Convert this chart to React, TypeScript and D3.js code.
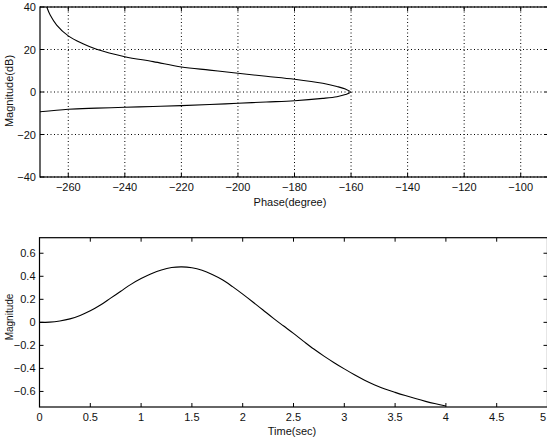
import React from 'react';
import * as d3 from 'd3';

// nichols plot (top)
const phaseTicks = [-260, -240, -220, -200, -180, -160, -140, -120, -100];
const dbTicks = [-40, -20, 0, 20, 40];
const upperPhase = [-268.6, -267.6, -266.4, -264.1, -260, -255, -250, -240, -230, -220, -210, -200, -190, -180, -170, -165, -162, -160.2];
const upperDb = [44, 40, 36.2, 31.5, 26.4, 22.8, 20.1, 16.6, 14.3, 11.8, 10.3, 8.8, 7.4, 6.0, 4.1, 2.6, 1.4, 0];
const lowerPhase = [-162, -165, -170, -180, -190, -200, -210, -220, -230, -240, -250, -260, -270];
const lowerDb = [-1.2, -2.2, -3.0, -4.1, -4.7, -5.3, -5.9, -6.4, -6.8, -7.2, -7.6, -8.1, -9.3];

// time response (bottom)
const timeTicks = [0, 0.5, 1, 1.5, 2, 2.5, 3, 3.5, 4, 4.5, 5];
const respTicks = [-0.6, -0.4, -0.2, 0, 0.2, 0.4, 0.6];
const time = [0, 0.1, 0.2, 0.3, 0.4, 0.5, 0.6, 0.7, 0.8, 0.9, 1.0, 1.1, 1.2, 1.3, 1.4, 1.5, 1.6, 1.7, 1.8, 1.9, 2.0,
  2.1, 2.2, 2.3, 2.4, 2.5, 2.6, 2.7, 2.8, 2.9, 3.0, 3.1, 3.2, 3.3, 3.4, 3.5, 3.6, 3.7, 3.8, 3.9, 4.0];
const response = [0, 0.002, 0.012, 0.03, 0.06, 0.1, 0.15, 0.21, 0.27, 0.33, 0.38, 0.422, 0.455, 0.476, 0.482, 0.474, 0.452, 0.416, 0.37, 0.31, 0.245,
  0.177, 0.107, 0.037, -0.03, -0.096, -0.165, -0.232, -0.293, -0.35, -0.404, -0.455, -0.502, -0.543, -0.578, -0.608, -0.636, -0.662, -0.686, -0.707, -0.726];

const FONT = '"Liberation Sans", Arial, sans-serif';
const TICK = 4;
const W = 547, H = 437;

const fmt = (v: number) => d3.format('')(v);

type Box = { x: d3.ScaleLinear<number, number>; y: d3.ScaleLinear<number, number> };

function Frame({ x, y, xt, yt, grid, id }: Box & { xt: number[]; yt: number[]; grid: boolean; id: string }) {
  const [x0, x1] = x.range();
  const [y0, y1] = y.range(); // y0 bottom, y1 top
  return (
    <g>
      {grid && (
        <g stroke="#000" strokeWidth={1} strokeDasharray="1 2.5">
          {xt.map(t => <line key={'gx' + t} x1={x(t)} x2={x(t)} y1={y0} y2={y1} />)}
          {yt.map(t => <line key={'gy' + t} x1={x0} x2={x1} y1={y(t)} y2={y(t)} />)}
        </g>
      )}
      <rect x={x0} y={y1} width={x1 - x0} height={y0 - y1} fill="none" stroke="#000" strokeWidth={1.2} />
      <g stroke="#000" strokeWidth={1}>
        {xt.map(t => (
          <g key={'tx' + t}>
            <line x1={x(t)} x2={x(t)} y1={y0} y2={y0 - TICK} />
            <line x1={x(t)} x2={x(t)} y1={y1} y2={y1 + TICK} />
          </g>
        ))}
        {yt.map(t => (
          <g key={'ty' + t}>
            <line x1={x0} x2={x0 + TICK} y1={y(t)} y2={y(t)} />
            <line x1={x1} x2={x1 - TICK} y1={y(t)} y2={y(t)} />
          </g>
        ))}
      </g>
      <g fontFamily={FONT} fontSize={11} fill="#111">
        {xt.map(t => {
          // keep a label that would run past the page edge inside it
          const px = x(t);
          const edge = px + 4 > W;
          return (
            <text key={'lx' + t} x={edge ? W - 1 : px} y={y0 + 14} textAnchor={edge ? 'end' : 'middle'}>{fmt(t)}</text>
          );
        })}
        {yt.map(t => (
          <text key={'ly' + t} x={x0 - 4} y={y(t) + 4} textAnchor="end">{fmt(t)}</text>
        ))}
      </g>
      <clipPath id={id}>
        <rect x={x0} y={y1} width={x1 - x0} height={y0 - y1} />
      </clipPath>
    </g>
  );
}

export default function App() {
  const xTop = d3.scaleLinear().domain([-270, -90]).range([40, 549]);
  const yTop = d3.scaleLinear().domain([-40, 40]).range([177, 7]);
  const xBot = d3.scaleLinear().domain([0, 5]).range([39.5, 547.5]);
  const yBot = d3.scaleLinear().domain([-0.735, 0.735]).range([407, 237.7]);

  const nichols = upperPhase.map((p, i) => [p, upperDb[i]] as [number, number])
    .concat(lowerPhase.map((p, i) => [p, lowerDb[i]] as [number, number]));
  const nicholsPath = d3.line<[number, number]>()
    .x(d => xTop(d[0]))
    .y(d => yTop(d[1]))
    .curve(d3.curveCatmullRom.alpha(0.5))(nichols) || '';

  const stepPath = d3.line<number>()
    .x((_, i) => xBot(time[i]))
    .y(d => yBot(d))
    .curve(d3.curveCatmullRom.alpha(0.5))(response) || '';

  return (
    <svg width={W} height={H} style={{ position: 'absolute', left: 0, top: 0, background: '#fff' }}>
      <rect width={W} height={H} fill="#fff" />
      <Frame x={xTop} y={yTop} xt={phaseTicks} yt={dbTicks} grid={true} id="clipTop" />
      <path d={nicholsPath} fill="none" stroke="#000" strokeWidth={1.1} clipPath="url(#clipTop)" />
      <text x={290} y={206} fontFamily={FONT} fontSize={11} textAnchor="middle" fill="#111">Phase(degree)</text>
      <text transform="translate(13,91) rotate(-90)" fontFamily={FONT} fontSize={11} textAnchor="middle" fill="#111">Magnitude(dB)</text>

      <Frame x={xBot} y={yBot} xt={timeTicks} yt={respTicks} grid={false} id="clipBot" />
      <path d={stepPath} fill="none" stroke="#000" strokeWidth={1.1} clipPath="url(#clipBot)" />
      <text x={292} y={435} fontFamily={FONT} fontSize={11} textAnchor="middle" fill="#111">Time(sec)</text>
      <text transform="translate(13,317) rotate(-90)" fontFamily={FONT} fontSize={10} textAnchor="middle" fill="#111">Magnitude</text>
    </svg>
  );
}
